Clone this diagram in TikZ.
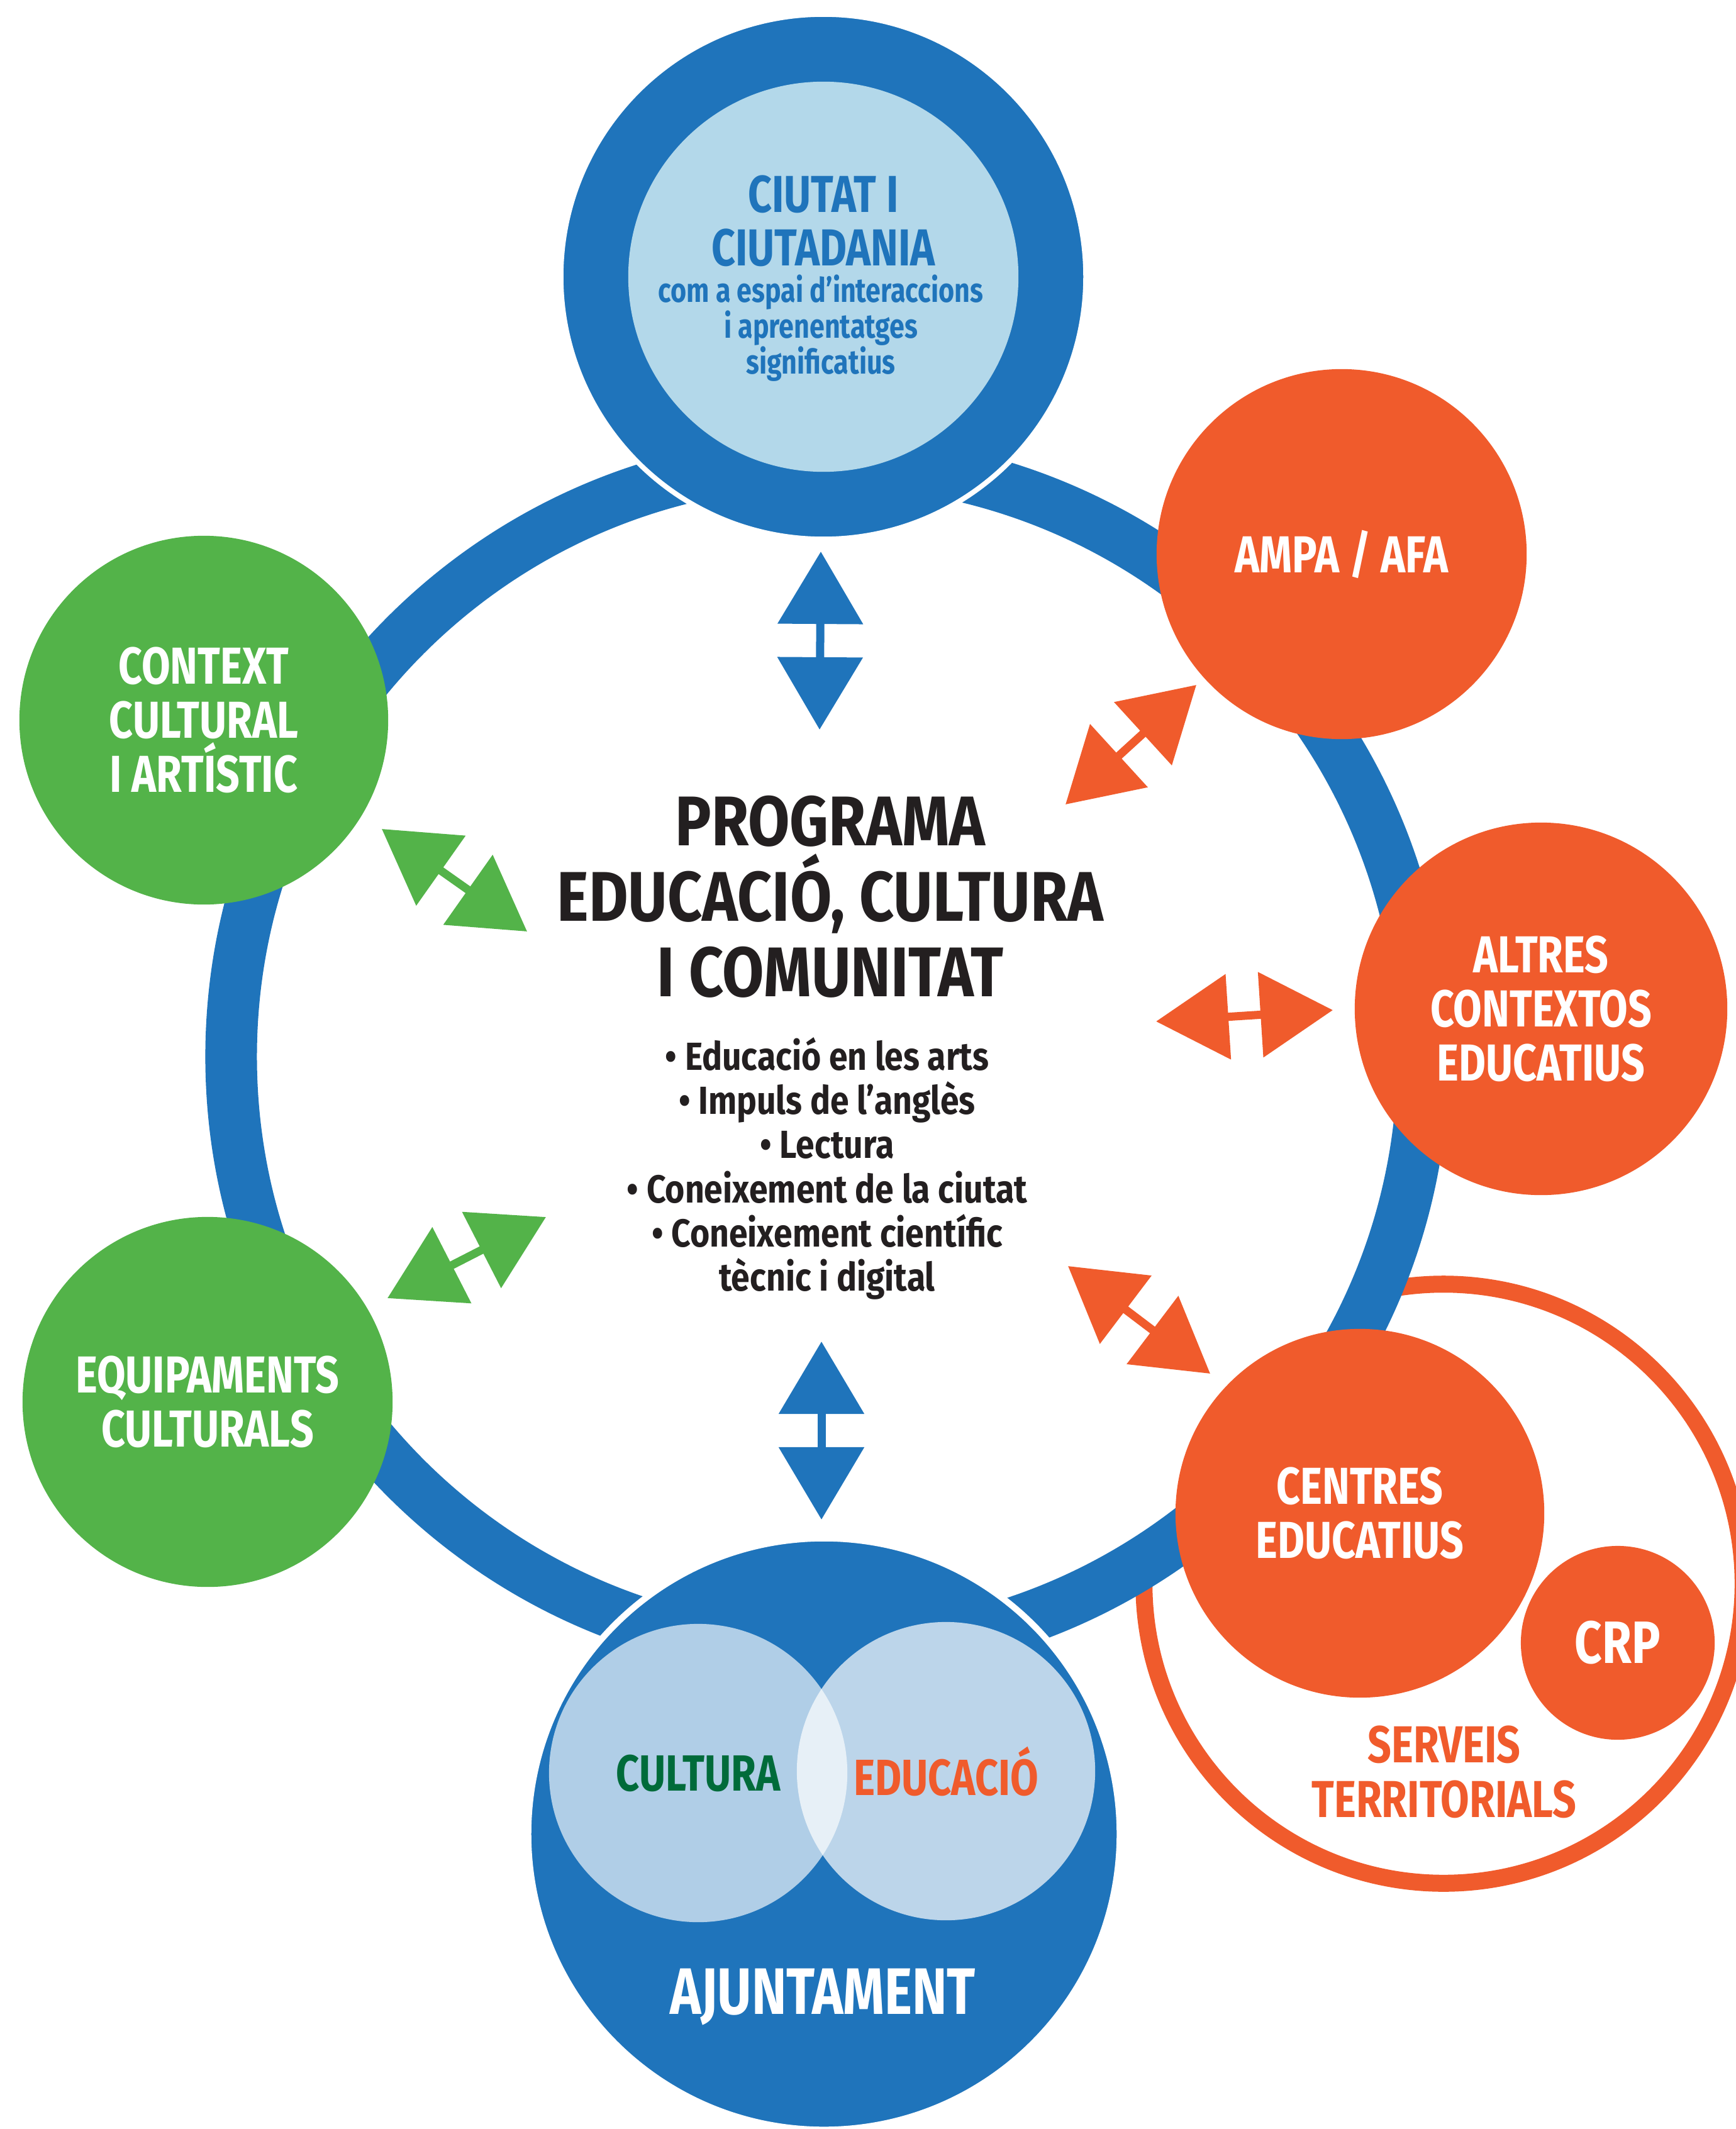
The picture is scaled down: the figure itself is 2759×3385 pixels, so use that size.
\documentclass[tikz,border=0pt]{standalone}
\usepackage{fontspec}
\setmainfont{Fira Sans}
\newfontfamily\titolfont{Fira Sans}[FakeStretch=0.86]
\newfontfamily\etiqfont{Fira Sans}[FakeStretch=0.8]
\usetikzlibrary{arrows.meta}

\definecolor{blau}{HTML}{1F74BB}
\definecolor{blauclar}{HTML}{B3D8EA}
\definecolor{taronja}{HTML}{F05B2C}
\definecolor{verd}{HTML}{53B349}
\definecolor{verdfosc}{HTML}{006B3A}
\definecolor{negre}{HTML}{231F20}

\tikzset{
  bola/.style={circle, inner sep=0pt, align=center, text=white,
    font=\etiqfont\bfseries\fontsize{23.5}{24.5}\selectfont},
  venn/.style={circle, inner sep=0pt, fill=white, text opacity=1,
    minimum size=4.74cm, font=\etiqfont\bfseries\fontsize{23}{24}\selectfont},
  fletxa/.style={line width=0.13cm,
    {Triangle[length=1.15cm,width=1.33cm]}-{Triangle[length=1.15cm,width=1.33cm]}},
}

\begin{document}
\begin{tikzpicture}[x=0.01cm, y=-0.01cm]
\useasboundingbox (0,0) rectangle (2759,3385);

% anells
\node[circle, draw=taronja, line width=0.27cm, minimum size=9.52cm] (serveis) at (2295,2518) {};
\node[circle, draw=blau, fill=white, line width=0.82cm, minimum size=18.94cm] (anell) at (1315,1680) {};

% ciutat
\node[circle, fill=blau, draw=white, line width=0.08cm, minimum size=8.34cm] (ciutatfons) at (1309,440) {};
\node[circle, fill=blauclar, minimum size=6.2cm] (ciutat) at (1309,440) {};
\node[align=center, text=blau, font=\etiqfont\bfseries\fontsize{23.5}{24.2}\selectfont] (ciutattitol) at (1309,351) {CIUTAT I\\CIUTADANIA};
\node[align=center, text=blau, font=\etiqfont\bfseries\fontsize{15.3}{16.2}\selectfont] (ciutattext) at (1305,522) {com a espai d’interaccions\\i aprenentatges\\significatius};

% entorn
\node[bola, fill=taronja, minimum size=5.88cm] (ampa) at (2133,881) {AMPA / AFA};
\node[bola, fill=taronja, minimum size=5.92cm] (altres) at (2450,1604) {ALTRES\\CONTEXTOS\\EDUCATIUS};
\node[bola, fill=taronja, minimum size=5.86cm] (centres) at (2162,2406) {CENTRES\\EDUCATIUS};
\node[bola, fill=taronja, minimum size=3.08cm, font=\etiqfont\bfseries\fontsize{27}{28}\selectfont] (crp) at (2572,2612) {CRP};
\node[align=center, text=taronja, font=\etiqfont\bfseries\fontsize{23.5}{24.7}\selectfont] (serveistext) at (2296,2817) {SERVEIS\\TERRITORIALS};
\node[bola, fill=verd, minimum size=5.86cm] (context) at (324,1145) {CONTEXT\\CULTURAL\\I ARTÍSTIC};
\node[bola, fill=verd, minimum size=5.88cm] (equipaments) at (330,2229) {EQUIPAMENTS\\CULTURALS};

% ajuntament
\node[circle, fill=blau, draw=white, line width=0.1cm, minimum size=9.4cm] (ajuntament) at (1310,2916) {};
\node[venn, fill opacity=0.65, text=verdfosc] (cultura) at (1110,2819) {CULTURA};
\node[venn, fill opacity=0.7, text=taronja] (educacio) at (1504,2816) {EDUCACIÓ};
\node[text=white, font=\etiqfont\bfseries\fontsize{29.7}{31}\selectfont] (ajtext) at (1308,3175) {AJUNTAMENT};

% programa
\node[align=center, text=negre, font=\titolfont\bfseries\fontsize{31.8}{34.1}\selectfont] (programa) at (1320,1426) {PROGRAMA\\EDUCACIÓ, CULTURA\\I COMUNITAT};
\node[align=center, text=negre, font=\titolfont\bfseries\fontsize{17.7}{20}\selectfont] (temes) at (1315,1858) {• Educació en les arts\\• Impuls de l’anglès\\• Lectura\\• Coneixement de la ciutat\\• Coneixement científic\\tècnic i digital};

% fletxes
\coordinate (f1a) at (1305,877);  \coordinate (f1b) at (1303,1160);
\coordinate (f2a) at (1902,1089); \coordinate (f2b) at (1694,1279);
\coordinate (f3a) at (2119,1606); \coordinate (f3b) at (1838,1624);
\coordinate (f4a) at (1924,2184); \coordinate (f4b) at (1698,2013);
\coordinate (f5a) at (1306,2133); \coordinate (f5b) at (1306,2416);
\coordinate (f6a) at (607,1318);  \coordinate (f6b) at (838,1481);
\coordinate (f7a) at (868,1935);  \coordinate (f7b) at (616,2064);

\draw[fletxa, blau] (f1a) -- (f1b);
\draw[fletxa, taronja] (f2a) -- (f2b);
\draw[fletxa, taronja] (f3a) -- (f3b);
\draw[fletxa, taronja] (f4a) -- (f4b);
\draw[fletxa, blau] (f5a) -- (f5b);
\draw[fletxa, verd] (f6a) -- (f6b);
\draw[fletxa, verd] (f7a) -- (f7b);

\end{tikzpicture}
\end{document}
